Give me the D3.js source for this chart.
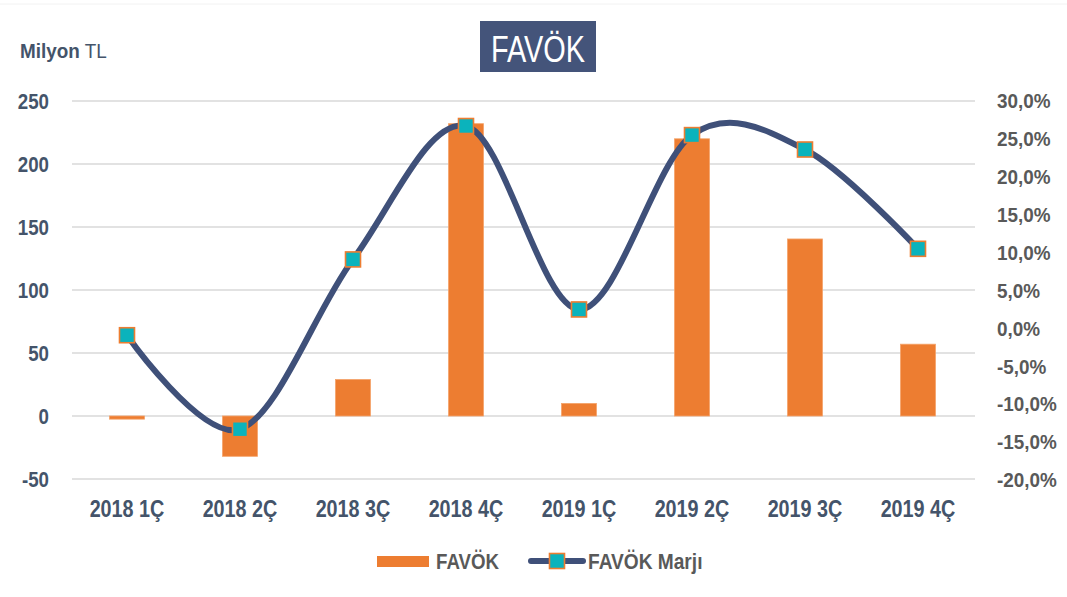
<!DOCTYPE html>
<html>
<head>
<meta charset="utf-8">
<script src="https://cdn.jsdelivr.net/npm/d3@7"></script>
<style>
  body { margin: 0; background: #fff; }
  svg { display: block; }
</style>
</head>
<body>
<svg width="1067" height="597"></svg>
<script>
const quarters = ["2018 1Ç", "2018 2Ç", "2018 3Ç", "2018 4Ç", "2019 1Ç", "2019 2Ç", "2019 3Ç", "2019 4Ç"];
const favok = [-2.5, -32, 29, 232, 10, 220, 140.5, 57];
const favokMarji = [-0.9, -13.3, 9.1, 26.7, 2.5, 25.5, 23.6, 10.5];
const leftTicks = [-50, 0, 50, 100, 150, 200, 250];
const rightTicks = [-20, -15, -10, -5, 0, 5, 10, 15, 20, 25, 30];

// Arial Narrow look: Liberation Sans squeezed horizontally
const font = "'Liberation Sans', Arial, sans-serif";
const squeeze = (sel, s) => sel.attr("transform", `scale(${s},1)`);
const svg = d3.select("svg");

const x = d3.scaleBand().domain(quarters).range([70.5, 974.5]).paddingInner(0.69).paddingOuter(0.345);
const yL = d3.scaleLinear().domain([-50, 250]).range([479, 101]);
const yR = d3.scaleLinear().domain([-20, 30]).range([480, 101]);
const cx = (d) => x(d) + x.bandwidth() / 2;

// top faint line
svg.append("line")
  .attr("x1", 0).attr("x2", 1067).attr("y1", 4).attr("y2", 4)
  .attr("stroke", "#f2f2f2").attr("stroke-width", 1);

// grid
svg.append("g")
  .selectAll("line")
  .data(leftTicks)
  .join("line")
  .attr("x1", 72).attr("x2", 975)
  .attr("y1", (d) => yL(d)).attr("y2", (d) => yL(d))
  .attr("stroke", "#d9d9d9").attr("stroke-width", 1.5);

// left axis
const axL = svg.append("g").attr("transform", "translate(49,0)")
  .call(d3.axisLeft(yL).tickValues(leftTicks).tickFormat((d) => String(d)).tickSize(0).tickPadding(0));
axL.select(".domain").remove();
axL.selectAll("text")
  .attr("font-family", font).attr("font-size", 22).attr("font-weight", "bold")
  .attr("fill", "#44546A")
  .call(squeeze, 0.85);

// right axis
const pct = (d) => d3.format(".1f")(d).replace(".", ",").replace("−", "-") + "%";
const axR = svg.append("g").attr("transform", "translate(997,0)")
  .call(d3.axisRight(yR).tickValues(rightTicks).tickFormat(pct).tickSize(0).tickPadding(0));
axR.select(".domain").remove();
axR.selectAll("text")
  .attr("font-family", font).attr("font-size", 21).attr("font-weight", "bold")
  .attr("fill", "#595959")
  .call(squeeze, 0.9);

// x axis labels
const axX = svg.append("g").attr("transform", "translate(0,517)")
  .call(d3.axisBottom(x).tickSize(0).tickPadding(0));
axX.select(".domain").remove();
axX.selectAll("text")
  .attr("y", 0).attr("dy", null)
  .attr("font-family", font).attr("font-size", 23).attr("font-weight", "bold")
  .attr("fill", "#44546A")
  .call(squeeze, 0.86);

// bars
svg.append("g")
  .selectAll("rect")
  .data(favok)
  .join("rect")
  .attr("x", (d, i) => x(quarters[i]))
  .attr("width", x.bandwidth())
  .attr("y", (d) => Math.min(yL(d), yL(0)))
  .attr("height", (d) => Math.abs(yL(d) - yL(0)))
  .attr("fill", "#ED7D31")
  .attr("stroke", "#F4A46B").attr("stroke-width", 0.8);

// margin line
const line = d3.line()
  .x((d, i) => cx(quarters[i]))
  .y((d) => yR(d))
  .curve(d3.curveCardinal.tension(0));
svg.append("path")
  .datum(favokMarji)
  .attr("d", line)
  .attr("fill", "none")
  .attr("stroke", "#3F5079")
  .attr("stroke-width", 6)
  .attr("stroke-linecap", "round");

const ms = 15;
svg.append("g")
  .selectAll("rect")
  .data(favokMarji)
  .join("rect")
  .attr("x", (d, i) => cx(quarters[i]) - ms / 2)
  .attr("y", (d) => yR(d) - ms / 2)
  .attr("width", ms).attr("height", ms)
  .attr("fill", "#0BB3BC")
  .attr("stroke", "#ED7D31").attr("stroke-width", 1.6);

// title
svg.append("rect")
  .attr("x", 480).attr("y", 21).attr("width", 116).attr("height", 51)
  .attr("fill", "#44547A");
svg.append("g").attr("transform", "translate(538,62)")
  .append("text")
  .attr("text-anchor", "middle")
  .attr("font-family", font).attr("font-size", 37)
  .attr("fill", "#fff")
  .text("FAVÖK")
  .call(squeeze, 0.78);

// unit label
const unit = svg.append("g").attr("transform", "translate(20,58)")
  .append("text")
  .attr("font-family", font).attr("font-size", 21)
  .attr("fill", "#44546A")
  .call(squeeze, 0.9);
unit.append("tspan").attr("font-weight", "bold").text("Milyon");
unit.append("tspan").text(" TL");

// legend
const lg = svg.append("g");
lg.append("rect").attr("x", 377).attr("y", 556).attr("width", 52).attr("height", 11).attr("fill", "#ED7D31");
lg.append("g").attr("transform", "translate(436,569)")
  .append("text")
  .attr("font-family", font).attr("font-size", 22).attr("font-weight", "bold")
  .attr("fill", "#595959").text("FAVÖK")
  .call(squeeze, 0.85);
lg.append("line").attr("x1", 531).attr("x2", 583).attr("y1", 561).attr("y2", 561)
  .attr("stroke", "#3F5079").attr("stroke-width", 6).attr("stroke-linecap", "round");
lg.append("rect").attr("x", 549.5).attr("y", 553.5).attr("width", 15).attr("height", 15)
  .attr("fill", "#0BB3BC").attr("stroke", "#ED7D31").attr("stroke-width", 1.6);
lg.append("g").attr("transform", "translate(588,569)")
  .append("text")
  .attr("font-family", font).attr("font-size", 22).attr("font-weight", "bold")
  .attr("fill", "#595959").text("FAVÖK Marjı")
  .call(squeeze, 0.87);
</script>
</body>
</html>
